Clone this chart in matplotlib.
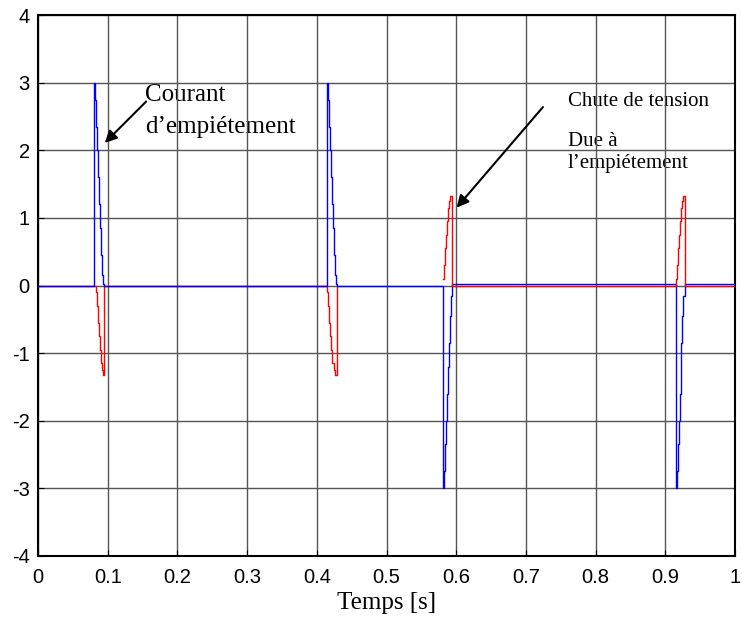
import numpy as np
import matplotlib.pyplot as plt

# temps des fronts (s) et paliers
t_blue_1 = [0.0, 0.0803, 0.0813, 0.0828, 0.0843, 0.0858, 0.0873, 0.0888, 0.0903, 0.0918, 0.0933, 0.0950]
v_blue_1 = [0.0, 3.0, 2.75, 2.35, 2.0, 1.6, 1.2, 0.85, 0.45, 0.15, 0.02, 0.0]
t_red_1 = [0.0, 0.0830, 0.0845, 0.0860, 0.0875, 0.0890, 0.0905, 0.0920, 0.0935, 0.0950]
v_red_1 = [0.0, -0.1, -0.3, -0.55, -0.75, -0.95, -1.15, -1.25, -1.32, 0.0]

t_blue_2 = [0.4146, 0.4158, 0.4173, 0.4188, 0.4203, 0.4218, 0.4233, 0.4248, 0.4263, 0.4278, 0.4292]
v_blue_2 = [3.0, 2.75, 2.35, 2.0, 1.6, 1.2, 0.85, 0.45, 0.15, 0.02, 0.0]
t_red_2 = [0.4150, 0.4165, 0.4180, 0.4195, 0.4210, 0.4225, 0.4240, 0.4255, 0.4270, 0.4292]
v_red_2 = [-0.1, -0.3, -0.55, -0.75, -0.95, -1.15, -1.25, -1.32, -1.32, 0.0]

t_blue_3 = [0.5810, 0.5822, 0.5836, 0.5850, 0.5864, 0.5878, 0.5892, 0.5906, 0.5920, 0.5940]
v_blue_3 = [-3.0, -2.75, -2.35, -2.0, -1.6, -1.2, -0.85, -0.45, -0.15, 0.02]
t_red_3 = [0.5810, 0.5825, 0.5840, 0.5855, 0.5870, 0.5885, 0.5900, 0.5915, 0.5940]
v_red_3 = [0.1, 0.3, 0.55, 0.75, 0.95, 1.15, 1.25, 1.32, 0.0]

t_blue_4 = [0.9150, 0.9162, 0.9176, 0.9190, 0.9204, 0.9218, 0.9232, 0.9246, 0.9260, 0.9280, 1.0]
v_blue_4 = [-3.0, -2.75, -2.35, -2.0, -1.6, -1.2, -0.85, -0.45, -0.15, 0.02, 0.02]
t_red_4 = [0.9150, 0.9165, 0.9180, 0.9195, 0.9210, 0.9225, 0.9240, 0.9255, 0.9280, 1.0]
v_red_4 = [0.1, 0.3, 0.55, 0.75, 0.95, 1.15, 1.25, 1.32, 0.0, 0.0]

t_blue = t_blue_1 + t_blue_2 + t_blue_3 + t_blue_4
v_blue = v_blue_1 + v_blue_2 + v_blue_3 + v_blue_4
t_red_a = t_red_1 + t_red_2
v_red_a = v_red_1 + v_red_2
t_red_b = t_red_3 + t_red_4
v_red_b = v_red_3 + v_red_4

x_ticks = ['0', '0.1', '0.2', '0.3', '0.4', '0.5', '0.6', '0.7', '0.8', '0.9', '1']
y_ticks = ['-4', '-3', '-2', '-1', '0', '1', '2', '3', '4']

plt.rcParams['font.family'] = ['Liberation Sans', 'DejaVu Sans']

fig = plt.figure(figsize=(7.42, 6.21), dpi=100)
ax = fig.add_axes([0.0512, 0.1047, 0.9394, 0.8711])

# rouge sous le bleu au debut, au-dessus apres 0.58 s
ax.plot(t_red_a, v_red_a, color='red', lw=1, drawstyle='steps-post', zorder=2)
ax.plot(t_blue, v_blue, color='blue', lw=1, drawstyle='steps-post', zorder=3)
ax.plot(t_red_b, v_red_b, color='red', lw=1, drawstyle='steps-post', zorder=4)

ax.set_xlim(0, 1)
ax.set_ylim(-4, 4)
ax.set_xticks(np.linspace(0, 1, 11))
ax.set_xticklabels(x_ticks)
ax.set_yticks(np.arange(-4, 5, 1))
ax.set_yticklabels(y_ticks)
ax.tick_params(direction='in', labelsize=14.5, length=4)
ax.tick_params(axis='x', pad=9)
ax.tick_params(axis='y', pad=6)
ax.grid(True, color='#555555', lw=1)
for s in ax.spines.values():
    s.set_linewidth(1.5)

ax.set_xlabel('Temps [s]', family='Liberation Serif', fontsize=18, labelpad=3)

ax.annotate('', xy=(0.093, 2.08), xytext=(0.158, 2.75),
            arrowprops=dict(arrowstyle='-|>', color='black', lw=1.5, mutation_scale=18))
ax.text(0.154, 2.82, 'Courant', family='Liberation Serif', fontsize=18,
        va='center', ha='left', zorder=0.4)
ax.text(0.154, 2.35, 'd\u2019empiétement', family='Liberation Serif', fontsize=18,
        va='center', ha='left', zorder=0.4)

ax.annotate('', xy=(0.598, 1.12), xytext=(0.727, 2.67),
            arrowprops=dict(arrowstyle='-|>', color='black', lw=1.5, mutation_scale=18))
ax.text(0.76, 2.72, 'Chute de tension', family='Liberation Serif', fontsize=15,
        va='center', zorder=0.4)
ax.text(0.76, 2.13, 'Due à', family='Liberation Serif', fontsize=15,
        va='center', zorder=0.4)
ax.text(0.76, 1.80, 'l\u2019empiétement', family='Liberation Serif', fontsize=15,
        va='center', zorder=0.4)

fig.savefig('out.png', dpi=100)
